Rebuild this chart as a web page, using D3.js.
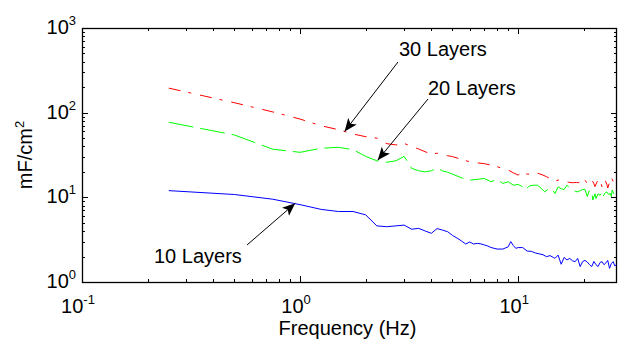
<!DOCTYPE html>
<html>
<head>
<meta charset="utf-8">
<script src="https://cdn.jsdelivr.net/npm/d3@7"></script>
<style>
    body { margin: 0; background: #fff; }
    text { font-family: "Liberation Sans", Arial, Helvetica, sans-serif; fill: #000; }
</style>
</head>
<body>
<script>
// capacitance (mF/cm^2) vs frequency (Hz)
const blueFreq = [0.25, 0.5, 0.75, 1.0, 1.25, 1.5, 1.75, 2.0, 2.25, 2.5, 2.75, 3.0, 3.25, 3.5, 3.75, 4.0, 4.25, 4.5, 4.75, 5.0,
    5.25, 5.5, 5.75, 6.0, 6.25, 6.5, 6.75, 7.0, 7.25, 7.5, 7.75, 8.0, 8.5, 9.0, 9.25, 9.5, 9.75, 10.0, 10.5, 11.0,
    11.5, 12.0, 12.5, 13.0, 13.5, 14.0, 14.5, 14.75, 15.25, 15.75, 16.25, 16.75, 17.25, 17.75, 18.25, 18.75, 19.25, 19.75,
    20.25, 20.75, 21.25, 21.75, 22.25, 22.75, 23.25, 23.75, 24.25, 24.75, 25.25, 25.75, 26.25, 26.75, 27.25, 27.75, 28.25];
const blueCap = [12.0, 10.8, 9.5, 8.2, 7.2, 6.8, 6.8, 6.2, 4.6, 4.5, 4.6, 4.7, 4.2, 4.3, 4.0, 3.76, 4.28, 4.1, 3.93, 3.55,
    3.3, 3.05, 2.81, 2.97, 2.81, 2.86, 2.82, 2.74, 2.66, 2.56, 2.5, 2.45, 2.45, 2.6, 3.0, 2.7, 2.5, 2.55, 2.55, 2.32,
    2.3, 2.2, 2.15, 2.1, 1.99, 2.05, 1.95, 1.9, 2.08, 1.62, 1.95, 1.82, 1.9, 1.78, 1.74, 1.9, 1.52, 1.74,
    1.8, 1.72, 1.6, 1.52, 1.75, 1.6, 1.52, 1.7, 1.74, 1.6, 1.68, 1.8, 1.45, 1.65, 1.74, 1.55, 1.6];

const redFreq = [0.25, 0.5, 0.75, 1.0, 1.25, 1.5, 1.75, 2.0, 2.25, 2.5, 2.75, 3.0, 3.25, 3.5, 3.75, 4.0, 4.25, 4.5, 4.75, 5.0,
    5.5, 6.0, 6.5, 7.0, 7.5, 8.0, 8.5, 9.0, 9.5, 10.0, 10.5, 11.0, 11.5, 12.0, 12.5, 13.0, 13.5, 14.0, 14.5, 15.0,
    15.5, 16.0, 16.5, 17.0, 17.5, 18.0, 18.5, 19.0, 19.5, 20.0, 20.5, 20.75, 21.25, 21.75, 22.25, 22.5, 23.0, 23.5,
    24.0, 24.25, 24.75, 25.0, 25.5, 25.75, 26.25, 26.75, 27.25, 27.75, 28.25];
const redCap = [195, 131, 102, 84, 70, 63, 56, 52, 50, 43, 41.6, 43.3, 40, 37.2, 34.5, 32.5, 33.2, 32, 31, 30.3,
    28.1, 26.3, 25.5, 25, 24, 23, 22, 21, 19.5, 18.3, 20, 18.8, 18.8, 19.6, 19, 18.3, 17.5, 16.7, 16, 15.7,
    16.2, 15.8, 15.3, 15.1, 14.9, 14.9, 15, 14.9, 15.8, 16.7, 15.2, 14.6, 15.8, 16.3, 14.5, 13.4, 15.2, 16.4,
    14.5, 13.3, 15, 16.2, 14.3, 12.9, 15, 17.2, 15.5, 14.2, 16];

const greenFreq = [0.25, 0.5, 0.75, 1.0, 1.25, 1.5, 1.75, 2.0, 2.25, 2.5, 2.75, 3.0, 3.25, 3.5, 3.75, 4.0, 4.25, 4.5, 4.75, 5.0,
    5.5, 6.0, 6.5, 7.0, 7.5, 8.0, 8.5, 9.0, 9.5, 10.0, 10.5, 10.75, 11.25, 11.75, 12.25, 12.75, 13.25, 13.75, 14.25, 14.75,
    15.25, 15.75, 16.25, 16.75, 17.25, 17.75, 18.25, 18.75, 19.25, 19.75, 20.25, 20.75, 21.25, 21.75, 22.0, 22.5, 22.75, 23.25,
    23.75, 24.25, 24.5, 25.0, 25.5, 26.0, 26.5, 26.75, 27.0, 27.5, 28.0, 28.25];
const greenCap = [77, 54.5, 37, 34, 38, 39, 36.5, 30.5, 27, 26, 27, 30.5, 22, 20.6, 20, 20.6, 22.3, 20.5, 19.8, 18.8,
    17, 16, 16.3, 16.7, 15.3, 16.3, 14.6, 15.3, 13.9, 14.2, 13.3, 12.2, 13.6, 13.9, 13.9, 12.8, 11.6, 12.5, 12.8, 11.1,
    13.3, 12.6, 12.4, 13.9, 12.8, 12.2, 11.8, 11.6, 12, 12.4, 12.4, 10.2, 12.2, 11.5, 9.3, 11, 9.7, 11,
    10.6, 11.5, 10.2, 11.2, 11.6, 10.8, 11.1, 10.2, 12.2, 11, 10.6, 11];

const xTicks = [0.1, 1, 10];
const xTickExp = ["-1", "0", "1"];
const yTicks = [1, 10, 100, 1000];
const yTickExp = ["0", "1", "2", "3"];

const noteLabels = ["30 Layers", "20 Layers", "10 Layers"];
const noteTipFreq = [1.6, 2.27, 0.95];
const noteTipCap = [60, 27.5, 8.5];

display_chart();

function display_chart(width = 619, height = 343) {
    let left = 82, right = 617, top = 28, bottom = 282;

    let svg = d3.select("body").append("svg")
        .attr("width", width)
        .attr("height", height);

    let x = d3.scaleLog().domain([0.1, 28.4]).range([left, right]);
    let y = d3.scaleLog().domain([1, 1000]).range([bottom, top]);

    let defs = svg.append("defs");
    defs.append("clipPath").attr("id", "plot-clip")
        .append("rect")
        .attr("x", left).attr("y", top)
        .attr("width", right - left).attr("height", bottom - top);

    defs.append("marker")
        .attr("id", "arrowhead")
        .attr("viewBox", "0 -5 12 10")
        .attr("refX", 12)
        .attr("refY", 0)
        .attr("orient", "auto")
        .attr("markerUnits", "userSpaceOnUse")
        .attr("markerWidth", 13)
        .attr("markerHeight", 11)
        .append("path")
        .attr("d", "M 0,-5 L 12,0 L 0,5 L 3,0 Z")
        .attr("fill", "#000");

    // minor + major ticks, inside the box, mirrored on top/right
    let xMinor = [], yMinor = [];
    for (let d = 0.1; d < 20; d *= 10)
        for (let k = 2; k <= 9; k++) if (d * k <= 28.4) xMinor.push(d * k);
    for (let d = 1; d < 1000; d *= 10)
        for (let k = 2; k <= 9; k++) yMinor.push(d * k);

    let ticks = svg.append("g").attr("stroke", "#000").attr("stroke-width", 1);
    [[xTicks, 6], [xMinor, 3]].forEach(([vals, len]) => {
        vals.forEach(v => {
            let px = Math.round(x(v)) + 0.5;
            ticks.append("line").attr("x1", px).attr("x2", px).attr("y1", bottom).attr("y2", bottom - len);
            ticks.append("line").attr("x1", px).attr("x2", px).attr("y1", top).attr("y2", top + len);
        });
    });
    [[yTicks, 6], [yMinor, 3]].forEach(([vals, len]) => {
        vals.forEach(v => {
            let py = Math.round(y(v)) + 0.5;
            ticks.append("line").attr("y1", py).attr("y2", py).attr("x1", left).attr("x2", left + len);
            ticks.append("line").attr("y1", py).attr("y2", py).attr("x1", right).attr("x2", right - len);
        });
    });

    svg.append("rect")
        .attr("x", left + 0.5).attr("y", top + 0.5)
        .attr("width", right - left - 1).attr("height", bottom - top)
        .attr("fill", "none")
        .attr("stroke", "#000")
        .attr("stroke-width", 1.3);

    // tick labels with superscript exponents
    xTicks.forEach((v, i) => {
        let t = svg.append("text")
            .attr("x", x(v) - 4)
            .attr("y", 313)
            .attr("text-anchor", "middle")
            .attr("font-size", 20);
        t.append("tspan").text("10");
        t.append("tspan").attr("dy", -9).attr("font-size", 13).text(xTickExp[i]);
    });
    yTicks.forEach((v, i) => {
        let t = svg.append("text")
            .attr("x", 76)
            .attr("y", y(v) + 6)
            .attr("text-anchor", "end")
            .attr("font-size", 20);
        t.append("tspan").text("10");
        t.append("tspan").attr("dy", -9).attr("font-size", 13).text(yTickExp[i]);
    });

    svg.append("text")
        .attr("x", (left + right) / 2 - 2)
        .attr("y", 335)
        .attr("text-anchor", "middle")
        .attr("font-size", 20)
        .text("Frequency (Hz)");

    let yl = svg.append("text")
        .attr("transform", "translate(32," + ((top + bottom) / 2) + ") rotate(-90)")
        .attr("text-anchor", "middle")
        .attr("font-size", 20);
    yl.append("tspan").text("mF/cm");
    yl.append("tspan").attr("dy", -8).attr("font-size", 13).text("2");

    // series
    let line = d3.line().x(d => x(d[0])).y(d => y(d[1]));
    let series = [
        {f: redFreq, c: redCap, color: "#ff0000", dash: "12,8,3,9"},
        {f: greenFreq, c: greenCap, color: "#00ff00", dash: "25,7"},
        {f: blueFreq, c: blueCap, color: "#0000ff", dash: null}
    ];
    let plot = svg.append("g").attr("clip-path", "url(#plot-clip)");
    series.forEach(s => {
        plot.append("path")
            .datum(d3.zip(s.f, s.c))
            .attr("fill", "none")
            .attr("stroke", s.color)
            .attr("stroke-width", 1)
            .attr("stroke-dasharray", s.dash)
            .attr("d", line);
    });

    // annotations: label, arrow tail in pixels, arrow tip on the data
    let annotPos = [
        {tx: 399, ty: 56, x1: 398, y1: 62},
        {tx: 428, ty: 95, x1: 428, y1: 99},
        {tx: 154, ty: 263, x1: 247, y1: 245}
    ];
    annotPos.forEach((a, i) => {
        svg.append("line")
            .attr("x1", a.x1).attr("y1", a.y1)
            .attr("x2", x(noteTipFreq[i])).attr("y2", y(noteTipCap[i]))
            .attr("stroke", "#000")
            .attr("stroke-width", 1)
            .attr("marker-end", "url(#arrowhead)");
        svg.append("text")
            .attr("x", a.tx).attr("y", a.ty)
            .attr("font-size", 20)
            .text(noteLabels[i]);
    });
}
</script>
</body>
</html>
